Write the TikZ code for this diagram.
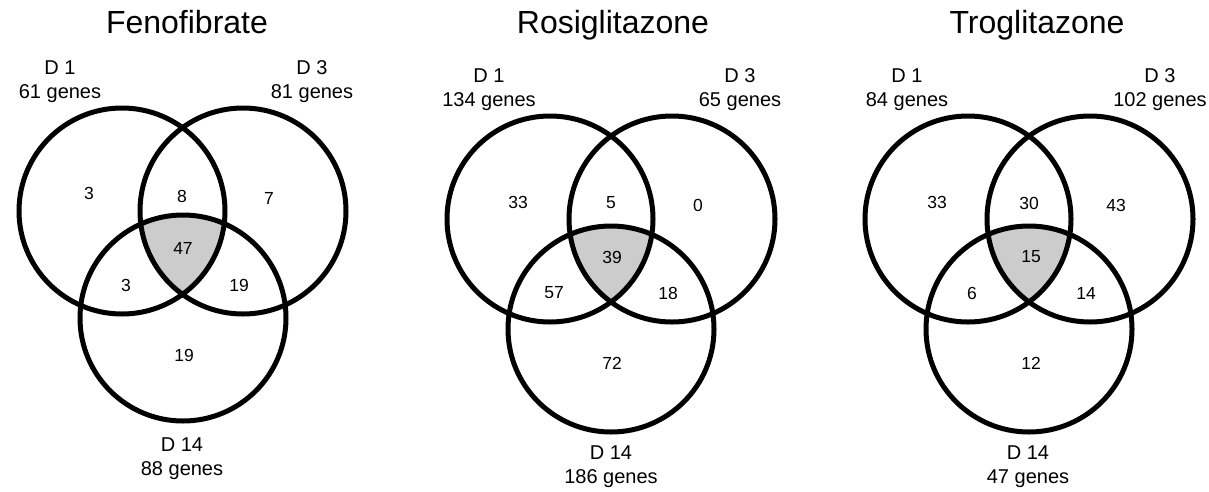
\documentclass[tikz,border=0pt]{standalone}
\usepackage{fontspec}
\setmainfont{Liberation Sans}
\begin{document}
\begin{tikzpicture}[x=1pt,y=-1pt,
  ring/.style={line width=5pt,draw=black},
  core/.style={fill=black!20},
  ttl/.style={font=\fontsize{32}{36}\selectfont,anchor=base,inner sep=0pt},
  lab/.style={font=\fontsize{20}{24}\selectfont,anchor=base,inner sep=0pt},
  num/.style={font=\fontsize{17.5}{20}\selectfont,inner sep=0pt}]
\useasboundingbox[fill=white] (0,0) rectangle (1209,491);
\def\rr{103}
% ---------- Fenofibrate ----------
\coordinate (fL) at (122,211);
\coordinate (fR) at (243,211);
\coordinate (fB) at (183,318);
\begin{scope}
  \clip (fL) circle (\rr);
  \clip (fR) circle (\rr);
  \fill[core] (fB) circle (\rr);
\end{scope}
\draw[ring] (fL) circle (\rr) (fR) circle (\rr) (fB) circle (\rr);
\node[ttl] (ft) at (187,33) {Fenofibrate};
\node[lab] (f1a) at (60,74) {D 1};
\node[lab] (f1b) at (60,98) {61 genes};
\node[lab] (f3a) at (312,74) {D 3};
\node[lab] (f3b) at (312,98) {81 genes};
\node[lab] (f14a) at (182,451) {D 14};
\node[lab] (f14b) at (182,475) {88 genes};
\node[num] (fn1) at (89,193) {3};
\node[num] (fn2) at (182,196) {8};
\node[num] (fn3) at (269,198) {7};
\node[num] (fn4) at (183,248) {47};
\node[num] (fn5) at (126,285) {3};
\node[num] (fn6) at (239,285) {19};
\node[num] (fn7) at (184,355) {19};
% ---------- Rosiglitazone ----------
\coordinate (rL) at (550,219);
\coordinate (rR) at (672,219);
\coordinate (rB) at (611,329);
\begin{scope}
  \clip (rL) circle (\rr);
  \clip (rR) circle (\rr);
  \fill[core] (rB) circle (\rr);
\end{scope}
\draw[ring] (rL) circle (\rr) (rR) circle (\rr) (rB) circle (\rr);
\node[ttl] (rt) at (613,33) {Rosiglitazone};
\node[lab] (r1a) at (489,82) {D 1};
\node[lab] (r1b) at (489,106) {134 genes};
\node[lab] (r3a) at (740,82) {D 3};
\node[lab] (r3b) at (740,106) {65 genes};
\node[lab] (r14a) at (611,459) {D 14};
\node[lab] (r14b) at (611,483) {186 genes};
\node[num] (rn1) at (518,202) {33};
\node[num] (rn2) at (611,203) {5};
\node[num] (rn3) at (698,205) {0};
\node[num] (rn4) at (612,257) {39};
\node[num] (rn5) at (554,293) {57};
\node[num] (rn6) at (668,293) {18};
\node[num] (rn7) at (612,363) {72};
% ---------- Troglitazone ----------
\coordinate (tL) at (968,219);
\coordinate (tR) at (1090,219);
\coordinate (tB) at (1029,329);
\begin{scope}
  \clip (tL) circle (\rr);
  \clip (tR) circle (\rr);
  \fill[core] (tB) circle (\rr);
\end{scope}
\draw[ring] (tL) circle (\rr) (tR) circle (\rr) (tB) circle (\rr);
\node[ttl] (tt) at (1037,33) {Troglitazone};
\node[lab] (t1a) at (907,82) {D 1};
\node[lab] (t1b) at (907,106) {84 genes};
\node[lab] (t3a) at (1160,82) {D 3};
\node[lab] (t3b) at (1160,106) {102 genes};
\node[lab] (t14a) at (1028,459) {D 14};
\node[lab] (t14b) at (1028,483) {47 genes};
\node[num] (tn1) at (937,202) {33};
\node[num] (tn2) at (1029,203) {30};
\node[num] (tn3) at (1116,205) {43};
\node[num] (tn4) at (1031,257) {15};
\node[num] (tn5) at (972,293) {6};
\node[num] (tn6) at (1086,293) {14};
\node[num] (tn7) at (1031,363) {12};
\end{tikzpicture}
\end{document}
